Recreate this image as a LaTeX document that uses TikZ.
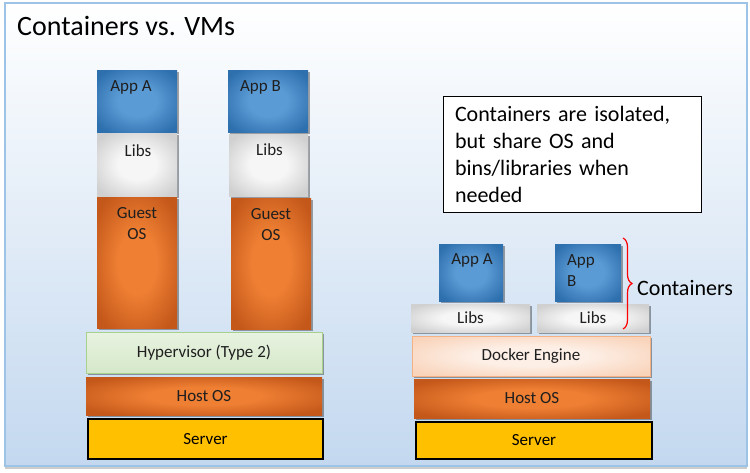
\documentclass[tikz,border=0pt]{standalone}
\usepackage{fontspec}
\setmainfont{Carlito}
\usepackage{xcolor}
\usetikzlibrary{shadows}
\usetikzlibrary{decorations.pathreplacing}
\definecolor{framebd}{HTML}{9DC3E6}
\definecolor{framebg}{HTML}{C3D8EF}
\definecolor{appin}{HTML}{5B9BD5}
\definecolor{appout}{HTML}{2E6FAE}
\definecolor{libin}{HTML}{F6F6F6}
\definecolor{libout}{HTML}{D0D0D0}
\definecolor{osin}{HTML}{EE7F33}
\definecolor{osout}{HTML}{C4581A}
\definecolor{hypin}{HTML}{E8F2E1}
\definecolor{hypout}{HTML}{D5E8C9}
\definecolor{hypbd}{HTML}{A9D18E}
\definecolor{dockin}{HTML}{FDEFE6}
\definecolor{dockout}{HTML}{F9D4BB}
\definecolor{dockbd}{HTML}{F4B183}
\definecolor{srvfill}{HTML}{FFC000}
\colorlet{bevin}{white}
\colorlet{bevout}{black}
\pgfdeclareradialshading[bevin,bevout]{bevel}{\pgfpoint{0bp}{0bp}}{color(0bp)=(bevin); color(12bp)=(bevin); color(31bp)=(bevout); color(50bp)=(bevout)}

\begin{document}
\begin{tikzpicture}[x=1pt,y=-1pt,
  bevcols/.code 2 args={\colorlet{bevin}{#1}\colorlet{bevout}{#2}},
  layer/.style={inner sep=0pt, font=\fontsize{17}{21}\selectfont, text=black!88,
    drop shadow={shadow xshift=1.8pt, shadow yshift=-1.8pt, opacity=0.35, fill=black}},
  lbl/.style={anchor=center, inner sep=0pt, align=left, font=\fontsize{17}{21}\selectfont, text=black!88},
  appbox/.style={layer, bevcols={appin}{appout}, shading=bevel, shade},
  libbox/.style={layer, bevcols={libin}{libout}, shading=bevel, shade},
  osbox/.style={layer, bevcols={osin}{osout}, shading=bevel, shade},
  hypbox/.style={layer, shade, top color=hypin, bottom color=hypout, draw=hypbd, line width=1pt},
  dockbox/.style={layer, bevcols={dockin}{dockout}, shading=bevel, shade, draw=dockbd, line width=1pt},
  srvbox/.style={inner sep=0pt, font=\fontsize{17}{21}\selectfont, fill=srvfill, draw=black, line width=1.2pt}
]
\useasboundingbox (0,0) rectangle (750,472);
\path [draw=framebd, line width=1.5pt, top color=white, bottom color=framebg,
  drop shadow={shadow xshift=0pt, shadow yshift=-2.5pt, opacity=0.4, fill=gray}] (5,3) rectangle (747,466);
\node [anchor=west, inner sep=0pt, font=\fontsize{28}{32}\selectfont] (title) at (17,26) {Containers vs. VMs};

\node [appbox, minimum width=80, minimum height=62, label={[lbl, yshift=-18pt, xshift=-6pt]north:App A}] (vmappA) at (137,101) {};
\node [appbox, minimum width=80, minimum height=62, label={[lbl, yshift=-18pt, xshift=-7.5pt]north:App B}] (vmappB) at (268,101) {};
\node [libbox, minimum width=80, minimum height=63, label={[lbl, yshift=-18pt, xshift=1pt]north:Libs}] (vmlibsA) at (137,164.5) {};
\node [libbox, minimum width=79, minimum height=62, label={[lbl, yshift=-16pt, xshift=1pt]north:Libs}] (vmlibsB) at (268.5,165) {};
\node [osbox, minimum width=80, minimum height=131, label={[lbl, align=center, yshift=-27pt]north:Guest\\OS}] (guestA) at (137,262.5) {};
\node [osbox, minimum width=80, minimum height=131, label={[lbl, align=center, yshift=-27pt]north:Guest\\OS}] (guestB) at (271,263.5) {};
\node [hypbox, minimum width=236, minimum height=41] (hyper) at (204,352.5) {Hypervisor (Type 2)};
\node [osbox, minimum width=236, minimum height=38] (hostL) at (204,396) {Host OS};
\node [srvbox, minimum width=235, minimum height=40] (srvL) at (205.5,439) {Server};

\node [draw=black, fill=white, line width=1pt, minimum width=258, minimum height=116,
  text width=234, align=left, inner sep=0pt, font=\fontsize{22}{27}\selectfont] (note) at (572,154)
  {Containers are isolated,\\but share OS and\\bins/libraries when\\needed};

\node [appbox, minimum width=64, minimum height=57, label={[lbl, yshift=-17pt, xshift=1pt]north:App A}] (ctappA) at (471,272.5) {};
\node [appbox, minimum width=66, minimum height=57, label={[lbl, yshift=-27pt, xshift=-7pt]north:App\\B}] (ctappB) at (588,272.5) {};
\node [libbox, minimum width=119, minimum height=28] (ctlibsA) at (470.5,318) {Libs};
\node [libbox, minimum width=112, minimum height=28] (ctlibsB) at (593,318) {Libs};
\node [dockbox, minimum width=238, minimum height=40] (docker) at (531,356) {Docker Engine};
\node [osbox, minimum width=236, minimum height=39] (hostR) at (532,398.5) {Host OS};
\node [srvbox, minimum width=236, minimum height=37] (srvR) at (534,440.5) {Server};

\coordinate (brtop) at (623,238);
\coordinate (brbot) at (623,329);
\draw [red, line width=1.2pt, decorate, decoration={brace, amplitude=9pt}] (brtop) -- (brbot);
\node [anchor=west, inner sep=0pt, font=\fontsize{22}{26}\selectfont] (ctlabel) at (637,288) {Containers};
\end{tikzpicture}
\end{document}
